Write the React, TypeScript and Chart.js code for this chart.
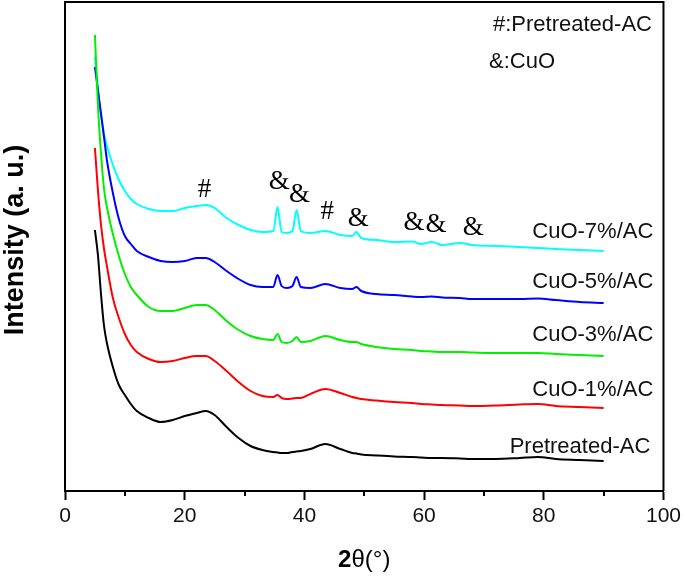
import React, { useEffect, useRef } from "react";
import { Chart, registerables } from "chart.js";

Chart.register(...registerables);

// 2θ positions (degrees) shared by all patterns
const THETA = [5, 5.5, 6, 6.5, 7, 8, 9, 10, 11, 12, 14, 16, 18, 20, 22, 23.5, 25, 27, 29, 31, 33, 34.8, 35.5, 36.2, 37, 38, 38.7, 39.4, 41, 43.5, 46, 48, 48.7, 49.5, 52, 55, 58, 59.5, 61.3, 63, 66, 68, 72, 76, 79, 82, 86, 90];

// Intensities (a.u., stacked with offsets as in the figure)
const PRETREATED_AC = [261, 236, 198, 166, 148, 124, 106, 96, 87, 80, 73, 69, 71, 75, 78, 80, 76, 64, 53, 45, 41, 39, 38.5, 38, 38, 39, 39.5, 40, 42, 47, 42, 38, 37.5, 36.5, 35.5, 34.5, 34, 33.5, 33, 33, 32.5, 32, 32, 33, 34, 32, 31, 30];
const CUO_1_AC = [343, 301, 267, 243, 225, 193, 173, 157, 146, 139, 132, 129, 130, 133, 135, 135, 130, 120, 109, 100, 95, 94, 96, 93, 92, 92.5, 93, 93, 97, 102, 98, 94, 93, 92, 90.5, 89, 88, 87, 86.5, 86, 85.5, 85, 85.5, 86.5, 87, 85, 84, 83];
const CUO_3_AC = [456, 386, 339, 303, 284, 257, 235, 217, 204, 196, 184, 180, 180, 183, 186, 186, 181, 170, 161, 155, 152, 151, 157, 149, 148, 150, 154, 149, 150, 155, 151, 149, 149, 147, 144, 142, 141, 140, 139.5, 139, 139, 138.5, 138, 138, 138, 137, 136, 135];
const CUO_5_AC = [424, 401, 378, 355, 331, 298, 272, 255, 247, 240, 234, 230, 229, 230, 233, 233, 229, 220, 212, 206, 204, 204, 216, 205, 203, 205, 214, 204, 203, 207, 203, 202, 204, 200, 197, 196, 194.5, 194, 194.5, 193.5, 193, 192, 192, 192, 192.5, 191, 189, 188];
const CUO_7_AC = [434, 403, 377, 357, 345, 326, 311, 300, 292, 287, 282, 280, 280, 283, 285, 286, 283, 273, 266, 261, 259, 260, 284, 259, 258, 260, 281, 260, 258, 260, 256, 255, 259, 253, 251, 249, 249.5, 247, 249, 246, 248, 246, 245, 244, 243, 242, 241, 240];

const SERIES = [PRETREATED_AC, CUO_1_AC, CUO_3_AC, CUO_5_AC, CUO_7_AC];
const SERIES_NAMES = ["Pretreated-AC", "CuO-1%/AC", "CuO-3%/AC", "CuO-5%/AC", "CuO-7%/AC"];
const SERIES_COLORS = ["#000000", "#ff0000", "#00f000", "#0000ff", "#00ffff"];
const LABEL_X = [97.8, 98.3, 98.3, 98.3, 98.3];
const LABEL_Y = [44, 101, 156, 209, 259];

const X_TICKS = [0, 20, 40, 60, 80, 100];
const X_MINOR = [10, 30, 50, 70, 90];

const PEAK_SYMBOLS = ["#", "&", "&", "#", "&", "&", "&", "&"];
const PEAK_X = [23.3, 35.8, 39.2, 43.8, 49, 58.3, 62, 68.2];
const PEAK_Y = [301, 309, 296, 279, 272, 268, 266, 263];

const KEY_LINES = ["#:Pretreated-AC", "&:CuO"];

const SANS = "'Liberation Sans', Arial, sans-serif";
const SERIF = "'Liberation Serif', 'Times New Roman', serif";

const overlay = {
  id: "overlay",
  afterDraw(chart: any) {
    const { ctx, chartArea: a, scales } = chart;
    const x = scales.x;
    const y = scales.y;
    ctx.save();
    // frame top/right
    ctx.strokeStyle = "#000";
    ctx.lineWidth = 2;
    ctx.beginPath();
    ctx.moveTo(a.left, a.top);
    ctx.lineTo(a.right, a.top);
    ctx.lineTo(a.right, a.bottom);
    ctx.stroke();
    // minor ticks
    ctx.beginPath();
    X_MINOR.forEach((v) => {
      const px = Math.round(x.getPixelForValue(v));
      ctx.moveTo(px, a.bottom);
      ctx.lineTo(px, a.bottom + 5);
    });
    ctx.stroke();

    // series labels
    ctx.fillStyle = "#111";
    ctx.font = `22px ${SANS}`;
    ctx.textAlign = "right";
    ctx.textBaseline = "middle";
    SERIES_NAMES.forEach((n, i) => {
      ctx.fillText(n, x.getPixelForValue(LABEL_X[i]), y.getPixelForValue(LABEL_Y[i]));
    });

    // key
    ctx.textAlign = "left";
    ctx.fillText(KEY_LINES[0], 493, 25);
    ctx.fillText(KEY_LINES[1], 489, 62);

    // peak markers
    ctx.fillStyle = "#000";
    ctx.font = `27px ${SERIF}`;
    ctx.textAlign = "center";
    PEAK_SYMBOLS.forEach((s, i) => {
      ctx.fillText(s, x.getPixelForValue(PEAK_X[i]), y.getPixelForValue(PEAK_Y[i]));
    });

    // x title
    ctx.textAlign = "left";
    const boldF = `bold 24px ${SANS}`;
    const normF = `24px ${SANS}`;
    ctx.font = boldF;
    const w1 = ctx.measureText("2").width;
    ctx.font = normF;
    const w2 = ctx.measureText("θ(°)").width;
    const cx = (a.left + a.right) / 2;
    const sx = cx - (w1 + w2) / 2;
    ctx.font = boldF;
    ctx.fillText("2", sx, 560);
    ctx.font = normF;
    ctx.fillText("θ(°)", sx + w1, 560);

    // y title
    ctx.translate(16, 240);
    ctx.rotate(-Math.PI / 2);
    ctx.textAlign = "center";
    ctx.font = `bold 27px ${SANS}`;
    ctx.fillText("Intensity (a. u.)", 0, 0);
    ctx.restore();
  },
};

export default function App() {
  const ref = useRef<HTMLCanvasElement>(null);
  useEffect(() => {
    if (!ref.current) return;
    const chart = new Chart(ref.current, {
      type: "line",
      data: {
        datasets: SERIES.map((vals, i) => ({
          label: SERIES_NAMES[i],
          data: THETA.map((t, j) => ({ x: t, y: vals[j] })),
          borderColor: SERIES_COLORS[i],
          borderWidth: 2,
          pointRadius: 0,
          fill: false,
          cubicInterpolationMode: "monotone" as const,
        })),
      },
      options: {
        animation: false,
        responsive: false,
        devicePixelRatio: 1,
        layout: { padding: { top: 2, right: 20, left: 0, bottom: 0 } },
        plugins: { legend: { display: false }, tooltip: { enabled: false }, title: { display: false } },
        scales: {
          x: {
            type: "linear",
            min: 0,
            max: 100,
            afterBuildTicks: (s: any) => {
              s.ticks = X_TICKS.map((v) => ({ value: v }));
            },
            afterFit: (s: any) => {
              s.height = 86;
            },
            ticks: {
              color: "#111",
              font: { family: SANS, size: 21 },
              padding: 4,
              maxRotation: 0,
              autoSkip: false,
            },
            grid: {
              display: true,
              drawOnChartArea: false,
              drawTicks: true,
              tickLength: 9,
              tickWidth: 2,
              tickColor: "#000",
              color: "#000",
            },
            border: { display: true, color: "#000", width: 2 },
          },
          y: {
            type: "linear",
            min: 0,
            max: 489,
            afterFit: (s: any) => {
              s.width = 65;
            },
            ticks: { display: false },
            grid: { display: false },
            border: { display: true, color: "#000", width: 2 },
          },
        },
      },
      plugins: [overlay],
    });
    return () => chart.destroy();
  }, []);
  return (
    <div style={{ position: "absolute", left: 0, top: 0, width: 685, height: 577, background: "#fff" }}>
      <canvas ref={ref} width={685} height={577} style={{ width: 685, height: 577 }} />
    </div>
  );
}
